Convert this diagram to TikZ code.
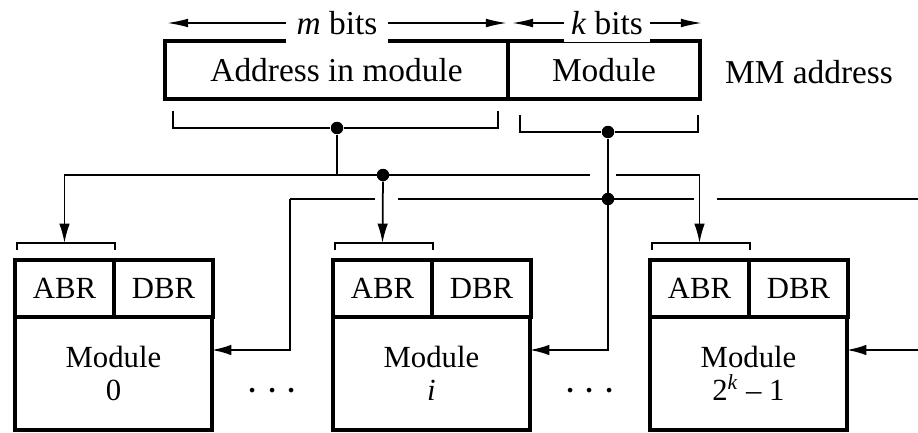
\documentclass[tikz,border=0pt]{standalone}
\usepackage{fontspec}
\setmainfont{Liberation Serif}
\usetikzlibrary{calc,arrows.meta,positioning}

\begin{document}
\begin{tikzpicture}[x=0.02cm,y=-0.02cm,
  reg/.style={draw,line width=1.8pt,inner sep=0pt,outer sep=0pt,minimum height=1.16cm,font=\fontsize{19}{21}\selectfont},
  cell/.style={draw,line width=1.8pt,inner sep=0pt,outer sep=0pt,minimum width=1.98cm,minimum height=1.14cm,font=\fontsize{17.5}{18}\selectfont},
  body/.style={draw,line width=1.8pt,inner sep=0pt,outer sep=0pt,minimum width=3.94cm,minimum height=2.26cm,align=center,font=\fontsize{17.5}{18.5}\selectfont},
  lbl/.style={inner sep=0pt,font=\fontsize{19}{21}\selectfont},
  wire/.style={line width=1pt},
  sig/.style={wire,-{Latex[length=11pt,width=6pt]}},
  dim/.style={wire,{Latex[length=12pt,width=5pt]}-{Latex[length=12pt,width=5pt]}},
  dot/.style={circle,fill,inner sep=0pt,minimum size=0.25cm}]
\useasboundingbox (0,0) rectangle (918,432);
\node[reg,minimum width=6.86cm] (addr) at (336.5,70) {Address in module};
\node[reg,minimum width=3.84cm,anchor=west] (mod) at (addr.east) {Module};
\node[lbl] (mmaddr) at (809,72) {MM address};
\draw[dim] ($(addr.north west)+(2,-18)$) -- node[fill=white,inner sep=6pt,font=\fontsize{19}{21}\selectfont] {\textit{m} bits} ($(addr.north east)+(-1,-18)$);
\draw[dim] ($(mod.north west)+(4,-18)$) -- node[fill=white,inner sep=4pt,font=\fontsize{19}{21}\selectfont] {\textit{k} bits} ($(mod.north east)+(2,-18)$);
\node[dot] (addrtap) at (337,128) {};
\node[dot] (modtap) at (608,132) {};
\draw[wire] (173,111) |- (addrtap) -| (498,111);
\draw[wire] (520,115) |- (modtap) -| (698,115);
\foreach \x/\n/\lab in {15/0/0,333/i/\textit{i},650/k/2\textsuperscript{\textit{k}} -- 1}{
  \node[cell,anchor=north west] (abr\n) at (\x,260) {ABR};
  \node[cell,anchor=west] (dbr\n) at (abr\n.east) {DBR};
  \node[body,anchor=north west] (mem\n) at (abr\n.south west) {Module\\\lab};
  \draw[wire] ($(abr\n.north west)+(2,-10)$) |- ($(abr\n.north)+(0,-17)$) coordinate (br\n) -| ($(abr\n.north east)+(1,-10)$);
  \coordinate (in\n) at ($(mem\n.north east)+(0,33)$);
}
\node[dot] (abus) at (383,175) {};
\node[dot] (mbus) at (608,199) {};
\coordinate (a0) at (br0 |- abus);
\coordinate (ak) at (brk |- abus);
\coordinate (m0) at (290,199);
\coordinate (mend) at (918,199);
\coordinate (east) at (918,350);
\draw[wire] (addrtap) -- (addrtap |- abus);
\draw[wire] (a0) -- (590,175);
\draw[wire] (616,175) -- (ak);
\draw[wire] (m0) -- (375,199);
\draw[wire] (398,199) -- (694,199);
\draw[wire] (717,199) -- (mend);
\draw[sig] (a0) -- (br0);
\draw[sig] (abus) -- (bri);
\draw[sig] (ak) -- (brk);
\draw[sig] (m0) |- (in0);
\draw[sig] (modtap) |- (ini);
\draw[sig] (east) -- (ink);
\node[lbl,font=\fontsize{23}{25}\selectfont] (dots1) at ($(mem0.east)!0.5!(memi.west)+(0,18)$) {$\cdots$};
\node[lbl,font=\fontsize{23}{25}\selectfont] (dots2) at ($(memi.east)!0.5!(memk.west)+(0,18)$) {$\cdots$};
\end{tikzpicture}
\end{document}
